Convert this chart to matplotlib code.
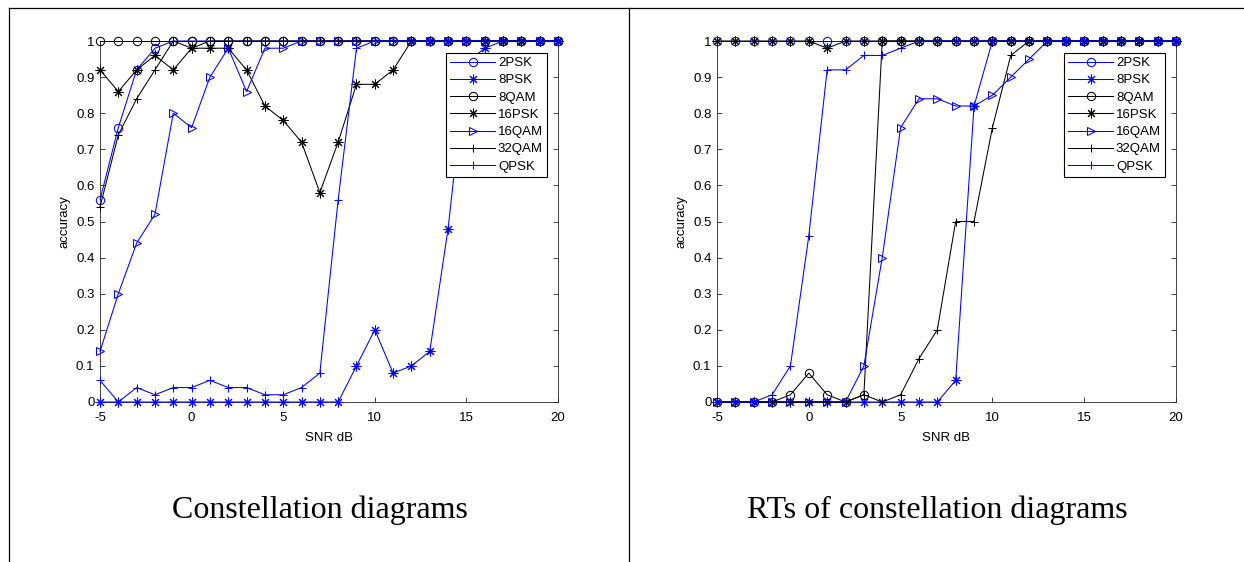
import matplotlib
matplotlib.use("Agg")
import matplotlib.pyplot as plt
from matplotlib.lines import Line2D

snr = list(range(-5, 21))

series_names = ["2PSK", "8PSK", "8QAM", "16PSK", "16QAM", "32QAM", "QPSK"]

# Accuracy per modulation, model trained on constellation diagrams
cd_2psk = [0.56, 0.76, 0.92, 0.98] + [1.0] * 22
cd_8psk = [0.0] * 14 + [0.10, 0.20, 0.08, 0.10, 0.14, 0.48, 0.94, 0.98] + [1.0] * 4
cd_8qam = [1.0] * 26
cd_16psk = [0.92, 0.86, 0.92, 0.96, 0.92, 0.98, 0.98, 0.98, 0.92, 0.82, 0.78,
            0.72, 0.58, 0.72, 0.88, 0.88, 0.92] + [1.0] * 9
cd_16qam = [0.14, 0.30, 0.44, 0.52, 0.80, 0.76, 0.90, 0.98, 0.86, 0.98, 0.98] + [1.0] * 15
cd_32qam = [0.54, 0.74, 0.84, 0.92, 1.0, 0.98] + [1.0] * 20
cd_qpsk = [0.06, 0.0, 0.04, 0.02, 0.04, 0.04, 0.06, 0.04, 0.04, 0.02, 0.02,
           0.04, 0.08, 0.56, 0.98] + [1.0] * 11

# Accuracy per modulation, model trained on RTs of constellation diagrams
rt_2psk = [1.0] * 26
rt_8psk = [0.0] * 13 + [0.06, 0.82] + [1.0] * 11
rt_8qam = [0.0, 0.0, 0.0, 0.0, 0.02, 0.08, 0.02, 0.0, 0.02] + [1.0] * 17
rt_16psk = [1.0] * 6 + [0.98] + [1.0] * 19
rt_16qam = [0.0] * 8 + [0.10, 0.40, 0.76, 0.84, 0.84, 0.82, 0.82, 0.85, 0.90, 0.95] + [1.0] * 8
rt_32qam = [0.0] * 8 + [0.02, 0.0, 0.02, 0.12, 0.20, 0.50, 0.50, 0.76, 0.96] + [1.0] * 9
rt_qpsk = [0.0, 0.0, 0.0, 0.02, 0.10, 0.46, 0.92, 0.92, 0.96, 0.96, 0.98] + [1.0] * 15

xticks = [-5, 0, 5, 10, 15, 20]
yticks = [0, 0.1, 0.2, 0.3, 0.4, 0.5, 0.6, 0.7, 0.8, 0.9, 1.0]
ytick_labels = ["0", "0.1", "0.2", "0.3", "0.4", "0.5", "0.6", "0.7", "0.8", "0.9", "1"]

captions = ["Constellation diagrams", "RTs of constellation diagrams"]

BLUE = (0, 0, 1)
BLACK = (0, 0, 0)
ASTERISK = (8, 2, 0)
styles = [
    (BLUE, "o"),
    (BLUE, ASTERISK),
    (BLACK, "o"),
    (BLACK, ASTERISK),
    (BLUE, ">"),
    (BLACK, "+"),
    (BLUE, "+"),
]

plt.rcParams["font.family"] = ["Liberation Sans", "DejaVu Sans"]
plt.rcParams["axes.unicode_minus"] = False

W, H = 1244, 562
fig = plt.figure(figsize=(W / 100, H / 100), dpi=100)

AX_GRAY = (0.15, 0.15, 0.15)


def draw_panel(rect, data):
    ax = fig.add_axes(rect)
    handles = []
    for (color, marker), name, ys in zip(styles, series_names, data):
        ms = 7 if marker == ASTERISK else 6
        (h,) = ax.plot(snr, ys, color=color, lw=0.75, marker=marker,
                       markersize=ms, markerfacecolor="none",
                       markeredgecolor=color, markeredgewidth=0.75,
                       clip_on=False, label=name, zorder=3)
        handles.append(h)
    ax.set_xlim(-5, 20)
    ax.set_ylim(0, 1)
    ax.set_xticks(xticks)
    ax.set_yticks(yticks)
    ax.set_yticklabels(ytick_labels)
    ax.tick_params(direction="in", length=3.5, width=0.6, colors=AX_GRAY,
                   labelsize=9.5, top=True, right=True, pad=4)
    ax.tick_params(axis="x", pad=7)
    for lab in ax.get_xticklabels() + ax.get_yticklabels():
        lab.set_color("black")
    for sp in ax.spines.values():
        sp.set_color(AX_GRAY)
        sp.set_linewidth(0.6)
    ax.set_xlabel("SNR dB", fontsize=9.5, labelpad=6)
    ax.set_ylabel("accuracy", fontsize=9.5, labelpad=4)
    leg = ax.legend(handles=handles, loc="upper right",
                    bbox_to_anchor=(1 - 11 / 458, 1 - 12 / 361),
                    fontsize=9.5, numpoints=1, handlelength=3.4,
                    handletextpad=0.2, labelspacing=0.38, borderpad=0.3,
                    borderaxespad=0, fancybox=False, framealpha=1)
    leg.get_frame().set_edgecolor("black")
    leg.get_frame().set_linewidth(0.8)
    return ax


bottom = (H - 402) / H
height = 361 / H
ax1 = draw_panel([100 / W, bottom, 458 / W, height],
                 [cd_2psk, cd_8psk, cd_8qam, cd_16psk, cd_16qam, cd_32qam, cd_qpsk])
ax2 = draw_panel([717 / W, bottom, 459 / W, height],
                 [rt_2psk, rt_8psk, rt_8qam, rt_16psk, rt_16qam, rt_32qam, rt_qpsk])

# Table frame around the two panels
top_y = 1 - 7.5 / H
fig.add_artist(Line2D([9 / W, 1.0], [top_y, top_y], color="black", lw=0.9,
                      transform=fig.transFigure))
for xpix in (9, 628.5):
    fig.add_artist(Line2D([xpix / W, xpix / W], [0, top_y], color="black", lw=0.9,
                          transform=fig.transFigure))

# Captions under each panel
for xc, text in zip((320 / W, 937 / W), captions):
    fig.text(xc, 1 - 510 / H, text, ha="center", va="center",
             fontsize=23, family=["Liberation Serif", "DejaVu Serif"])

fig.savefig("out.png", dpi=100)
